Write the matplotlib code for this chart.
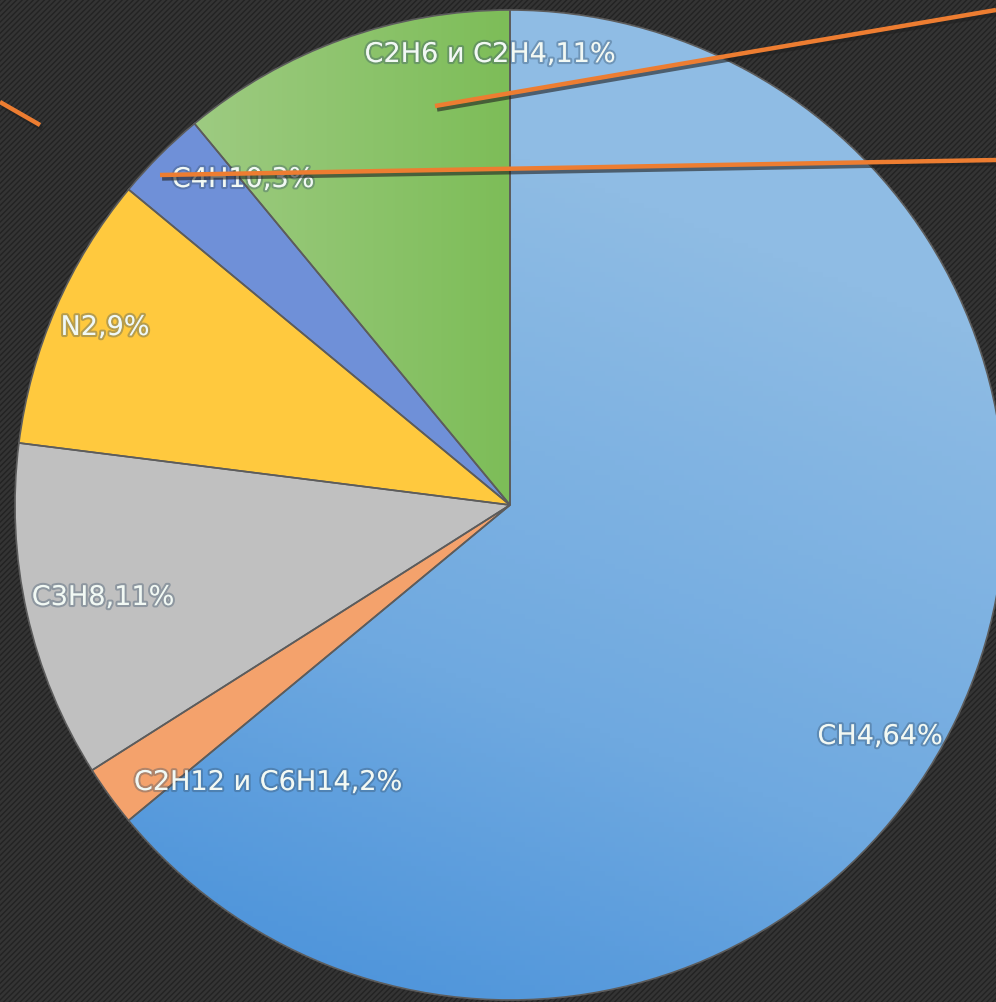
import matplotlib.pyplot as plt
import matplotlib.patheffects as pe
from matplotlib.patches import Rectangle
from matplotlib.colors import LinearSegmentedColormap
import numpy as np

plt.rcParams['font.family'] = ['DejaVu Sans']

gases = ["CH4", "C2H12 и C6H14", "C3H8", "N2", "C4H10", "C2H6 и C2H4"]
shares = [64, 2, 11, 9, 3, 11]
colors = ["#86b6e2", "#f4a26c", "#c0c0c0", "#ffc93e", "#6f90d8", "#92c571"]
# label centres in pixel coords (x, y from top)
label_pos = [(880, 737), (268, 783), (103, 598), (105, 328), (243, 180), (490, 55)]
# decorative orange strokes (x0, y0, x1, y1) from top
strokes = [(0, 102, 40, 125), (435, 106, 996, 10), (160, 175, 996, 160)]

W, H = 996, 1002
cx, cy, r = 510, H - 505, 495

fig = plt.figure(figsize=(W / 100, H / 100), dpi=100)
ax = fig.add_axes([0, 0, 1, 1])

# dark brushed background
ax.add_patch(Rectangle((0, 0), W, H, facecolor="#343434", edgecolor="#232323",
                       hatch="//////", linewidth=0, zorder=0))

wedges, _ = ax.pie(shares, colors=colors, startangle=90, counterclock=False,
                   center=(cx, cy), radius=r,
                   wedgeprops=dict(edgecolor="none", linewidth=0))
for w in wedges:
    w.set_zorder(2)

# gradient fills on the big blue and green slices
yy, xx = np.mgrid[0:1:200j, 0:1:200j]
blue = LinearSegmentedColormap.from_list("b", ["#3d8ad8", "#6fa9e0", "#8fbce4"])
g = np.clip(0.25 + 0.9 * yy + 0.35 * xx - 0.2, 0, 1)
im = ax.imshow(g, cmap=blue, extent=(cx - r, cx + r, cy - r, cy + r),
               origin="lower", zorder=3, vmin=0, vmax=1, aspect="auto")
im.set_clip_path(wedges[0])

green = LinearSegmentedColormap.from_list("g", ["#9ecb82", "#7dbd58"])
im2 = ax.imshow(xx, cmap=green, extent=(cx - 320, cx, cy, cy + r),
                origin="lower", zorder=3, vmin=0, vmax=1, aspect="auto")
im2.set_clip_path(wedges[5])

# slice outlines on top of the gradients
edges, _ = ax.pie(shares, startangle=90, counterclock=False,
                  center=(cx, cy), radius=r,
                  wedgeprops=dict(facecolor="none", edgecolor="#5c5c5c", linewidth=1.2))
for w in edges:
    w.set_zorder(4)

glow = [pe.withStroke(linewidth=3, foreground=(0.2, 0.3, 0.4, 0.35))]
for name, val, (x, y) in zip(gases, shares, label_pos):
    ax.text(x, H - y, f"{name},{val}%", ha="center", va="center",
            fontsize=19.5, color="#f2f9f4", zorder=6, path_effects=glow)

shadow = [pe.SimpleLineShadow(offset=(1.5, -2.5), shadow_color="#202020", alpha=0.6),
          pe.Normal()]
for x0, y0, x1, y1 in strokes:
    ax.plot([x0, x1], [H - y0, H - y1], color="#ed7d31", linewidth=3.2,
            solid_capstyle="butt", zorder=7, path_effects=shadow)

ax.set_xlim(0, W)
ax.set_ylim(0, H)
ax.set_aspect("auto")
ax.axis("off")

fig.savefig("out.png", dpi=100)
